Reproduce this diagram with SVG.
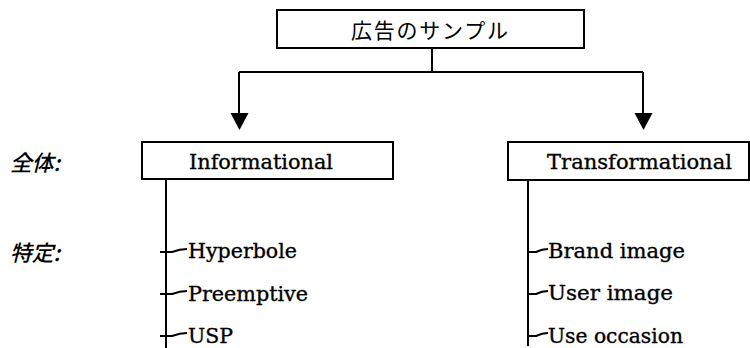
<svg xmlns="http://www.w3.org/2000/svg" width="750" height="348" viewBox="0 0 750 348">
  <defs>
    <style>
      .box { fill: #fff; stroke: #000; stroke-width: 2; }
      .line { fill: none; stroke: #000; stroke-width: 2; }
      .head { fill: #000; stroke: none; }
      .en { font-family: "DejaVu Serif", "Liberation Serif", serif; font-size: 20px; fill: #000; stroke: #000; stroke-width: 0.35; }
      .jp { font-family: "Noto Sans CJK JP", "Noto Sans CJK SC", sans-serif; font-size: 21px; fill: #000; }
      .lbl { font-family: "Noto Sans CJK JP", "Noto Sans CJK SC", sans-serif; font-size: 22px; font-style: italic; font-weight: 500; fill: #000; }
    </style>
  </defs>
  <rect width="750" height="348" fill="#fff"/>

  <!-- level labels on the left -->
  <text class="lbl" x="10" y="171" textLength="50" lengthAdjust="spacingAndGlyphs">全体:</text>
  <text class="lbl" x="10" y="261" textLength="50" lengthAdjust="spacingAndGlyphs">特定:</text>

  <!-- connectors -->
  <g id="connectors">
    <path class="line" d="M432 48 V72"/>
    <path class="line" d="M239 72 H643"/>
    <path class="line" d="M239 72 V114"/>
    <path class="line" d="M643 72 V114"/>
    <polygon class="head" points="230.5,113 248.5,113 239.5,130"/>
    <polygon class="head" points="634.5,113 652.5,113 643.5,130"/>
    <!-- Informational branches -->
    <path class="line" d="M166 180 V348"/>
    <path class="line" d="M160 252 H172 Q180 249 187 249"/>
    <path class="line" d="M160 294 H172 Q180 291 187 291"/>
    <path class="line" d="M160 336 H172 Q180 333 187 333"/>
    <!-- Transformational branches -->
    <path class="line" d="M528 180 V346"/>
    <path class="line" d="M528 252 H536 Q542 249 548 249"/>
    <path class="line" d="M528 294 H536 Q542 291 548 291"/>
    <path class="line" d="M528 336 H536 Q542 333 548 333"/>
  </g>

  <g id="root">
    <rect class="box" x="277" y="10" width="307" height="38"/>
    <text class="jp" x="351" y="38" textLength="157" lengthAdjust="spacing">広告のサンプル</text>
  </g>

  <g id="informational">
    <rect class="box" x="142" y="142" width="251" height="37"/>
    <text class="en" x="189" y="169" textLength="144" lengthAdjust="spacingAndGlyphs">Informational</text>
  </g>

  <g id="transformational">
    <rect class="box" x="508" y="142" width="241" height="38"/>
    <text class="en" x="547" y="169" textLength="185" lengthAdjust="spacingAndGlyphs">Transformational</text>
  </g>

  <g id="hyperbole"><text class="en" x="188" y="258" textLength="109" lengthAdjust="spacingAndGlyphs">Hyperbole</text></g>
  <g id="preemptive"><text class="en" x="188" y="301" textLength="120" lengthAdjust="spacingAndGlyphs">Preemptive</text></g>
  <g id="usp"><text class="en" x="188" y="343" textLength="45" lengthAdjust="spacingAndGlyphs">USP</text></g>

  <g id="brand-image"><text class="en" x="548" y="258" textLength="137" lengthAdjust="spacingAndGlyphs">Brand image</text></g>
  <g id="user-image"><text class="en" x="548" y="300" textLength="125" lengthAdjust="spacingAndGlyphs">User image</text></g>
  <g id="use-occasion"><text class="en" x="548" y="343" textLength="135" lengthAdjust="spacingAndGlyphs">Use occasion</text></g>
</svg>
